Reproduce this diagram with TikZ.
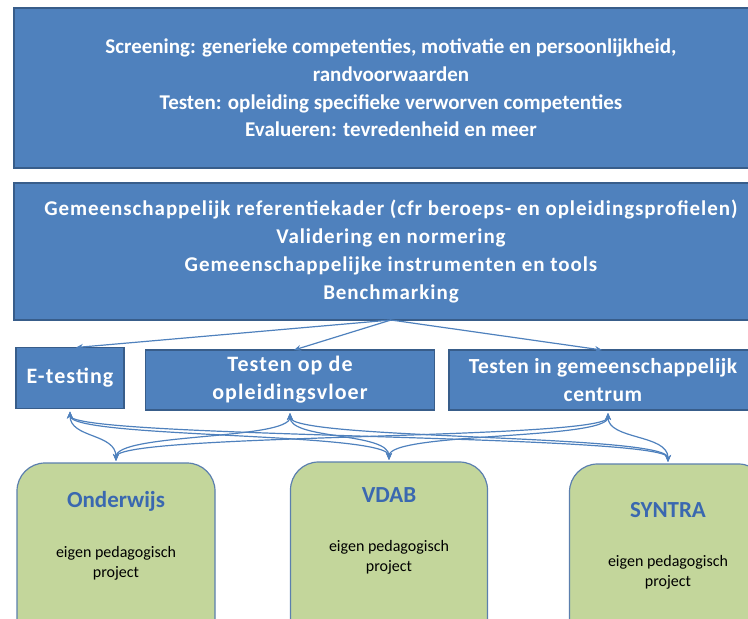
\documentclass[tikz,border=0pt]{standalone}
\usepackage{fontspec}
\setmainfont{Carlito}
\usetikzlibrary{arrows.meta,calc}
\definecolor{bfill}{HTML}{4F81BD}
\definecolor{bline}{HTML}{385D8A}
\definecolor{gfill}{HTML}{C3D69B}
\definecolor{gline}{HTML}{5B7FAE}
\definecolor{ttl}{HTML}{3A68B0}
\definecolor{conn}{HTML}{4F81BD}
\begin{document}
\begin{tikzpicture}[x=1pt,y=-1pt,
  bluebox/.style={draw=bline, fill=bfill, line width=1.2pt, text=white, align=center,
    inner sep=0pt, outer sep=0pt},
  topfont/.style={font=\fontsize{21}{27.7}\selectfont\bfseries},
  reffont/.style={font=\fontsize{21}{27.7}\selectfont\bfseries\addfontfeatures{LetterSpace=4.5}},
  midfont/.style={font=\fontsize{22}{28}\selectfont\bfseries\addfontfeatures{LetterSpace=5}},
  gcfont/.style={font=\fontsize{21.5}{28}\selectfont\bfseries\addfontfeatures{LetterSpace=2.5}},
  greenbox/.style={draw=gline, fill=gfill, line width=1.2pt, rounded corners=28pt,
    inner sep=0pt, outer sep=0pt},
  ttltext/.style={text=ttl, font=\fontsize{23}{26}\selectfont\bfseries},
  subtext/.style={text=black, align=center, font=\fontsize{16}{20}\selectfont},
  downarr/.style={draw=conn, line width=1.2pt, -{Stealth[length=7pt,width=6pt]}},
  biarr/.style={draw=conn, line width=1.2pt, {Stealth[length=7pt,width=6pt]}-{Stealth[length=7pt,width=6pt]}}
]
\useasboundingbox (0,0) rectangle (748,619);

\node[bluebox, topfont, minimum width=754pt, minimum height=160pt] (scr) at (391,88)
  {Screening: generieke competenties, motivatie en persoonlijkheid,\\
   randvoorwaarden\\
   Testen: opleiding specifieke verworven competenties\\
   Evalueren: tevredenheid en meer};

\node[bluebox, reffont, minimum width=754pt, minimum height=137pt] (ref) at (391,251.5)
  {Gemeenschappelijk referentiekader (cfr beroeps- en opleidingsprofielen)\\
   Validering en normering\\
   Gemeenschappelijke instrumenten en tools\\
   Benchmarking};

\node[bluebox, midfont, minimum width=108pt, minimum height=61pt] (et) at (70,378) {E-testing};
\node[bluebox, midfont, minimum width=289pt, minimum height=60pt] (op) at (290,380)
  {Testen op de\\ opleidingsvloer};
\node[bluebox, minimum width=318pt, minimum height=60pt] (gc) at (608,380) {};
\node[text=white, align=center, gcfont, inner sep=0pt] (gct) at (603,380)
  {Testen in gemeenschappelijk\\ centrum};

\node[greenbox, minimum width=198pt, minimum height=200pt] (ond) at (116,563) {};
\node[greenbox, minimum width=197pt, minimum height=200pt] (vdab) at (389,562) {};
\node[greenbox, minimum width=197pt, minimum height=200pt] (syn) at (668,564) {};

\node[ttltext] (ondt) at (116,501) {Onderwijs};
\node[subtext] (onds) at (116,563) {eigen pedagogisch\\ project};
\node[ttltext] (vdabt) at (389,495) {VDAB};
\node[subtext] (vdabs) at (389,557) {eigen pedagogisch\\ project};
\node[ttltext] (synt) at (668,510) {SYNTRA};
\node[subtext] (syns) at (668,572) {eigen pedagogisch\\ project};

\draw[downarr] (ref.south) -- ($(et.north)+(6,0)$);
\draw[downarr] (ref.south) -- ($(op.north)+(4,0)$);
\draw[downarr] (ref.south) -- ($(gc.north)+(-6,0)$);

\foreach \t in {et,op,gc}{
  \foreach \b in {ond,vdab,syn}{
    \draw[biarr] ($(\t.south)+(0,3)$) .. controls ($(\t.south)+(0,30)$) and ($(\b.north)+(0,-30)$) .. ($(\b.north)+(0,-2)$);
  }
}
\end{tikzpicture}
\end{document}
